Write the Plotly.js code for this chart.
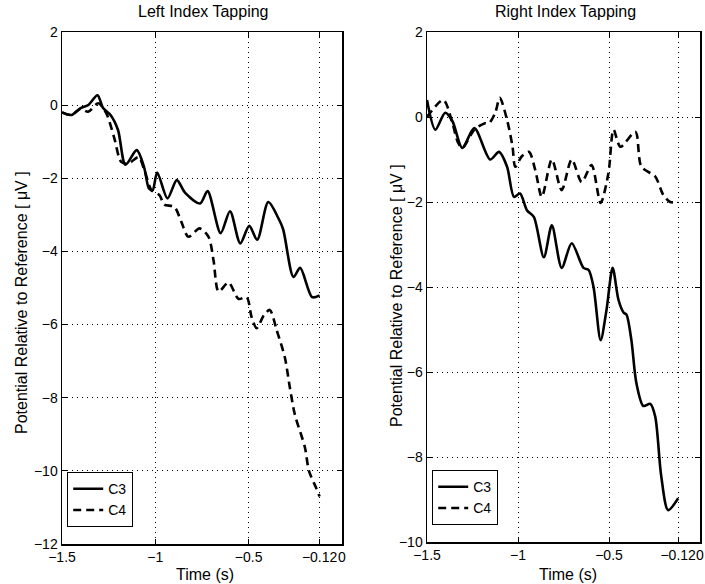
<!DOCTYPE html>
<html>
<head>
<meta charset="utf-8">
<script src="https://cdn.plot.ly/plotly-3.0.1.min.js"></script>
<style>html,body{margin:0;padding:0;background:#fff;}#chart{width:705px;height:584px;}</style>
</head>
<body>
<div id="chart"></div>
<script>
// ---- Data ----
const xTickVals = [-1.5, -1, -0.5, -0.12, 0];
const xTickText = ['\u22121.5', '\u22121', '\u22120.5', '\u22120.12', '0'];

// Left Index Tapping
const leftC3Time = [-1.5, -1.45, -1.40, -1.36, -1.31, -1.28, -1.24, -1.20, -1.16, -1.10, -1.06, -1.035, -1.015, -0.99, -0.935, -0.885, -0.84, -0.76, -0.72, -0.65, -0.60, -0.545, -0.497, -0.454, -0.395, -0.34, -0.315, -0.26, -0.224, -0.16, -0.12];
const leftC3 = [-0.2, -0.27, -0.08, 0.0, 0.27, -0.08, -0.27, -0.68, -1.63, -1.23, -1.7, -2.27, -2.33, -1.84, -2.55, -2.05, -2.4, -2.69, -2.35, -3.5, -2.9, -3.78, -3.3, -3.68, -2.65, -3.1, -3.4, -4.7, -4.45, -5.25, -5.2];
const leftC4Time = [-1.5, -1.45, -1.40, -1.36, -1.306, -1.263, -1.22, -1.183, -1.145, -1.09, -1.059, -1.02, -0.978, -0.952, -0.898, -0.86, -0.823, -0.763, -0.715, -0.688, -0.661, -0.608, -0.554, -0.511, -0.484, -0.457, -0.419, -0.387, -0.35, -0.306, -0.28, -0.253, -0.199, -0.177, -0.14, -0.12];
const leftC4 = [-0.2, -0.27, -0.1, -0.18, 0.05, -0.22, -0.9, -1.55, -1.6, -1.42, -1.77, -2.33, -2.46, -2.72, -2.78, -3.2, -3.6, -3.37, -3.6, -4.25, -5.1, -4.85, -5.3, -5.25, -5.8, -6.1, -5.75, -5.6, -6.15, -6.9, -7.7, -8.45, -9.35, -10.0, -10.45, -10.7];

// Right Index Tapping
const rightC3Time = [-1.5, -1.454, -1.40, -1.36, -1.306, -1.24, -1.153, -1.104, -1.06, -1.022, -0.989, -0.95, -0.913, -0.858, -0.814, -0.76, -0.705, -0.64, -0.612, -0.585, -0.546, -0.514, -0.48, -0.448, -0.42, -0.404, -0.377, -0.35, -0.311, -0.273, -0.246, -0.213, -0.175, -0.12];
const rightC3 = [0.4, -0.3, 0.1, -0.1, -0.73, -0.26, -1.0, -0.82, -1.17, -1.88, -1.8, -2.2, -2.35, -3.3, -2.55, -3.55, -2.97, -3.55, -3.6, -4.0, -5.25, -4.55, -3.55, -4.3, -4.6, -4.65, -5.25, -6.25, -6.8, -6.75, -7.05, -8.45, -9.25, -8.97];
const rightC4Time = [-1.5, -1.41, -1.36, -1.33, -1.306, -1.24, -1.185, -1.16, -1.125, -1.10, -1.06, -1.03, -1.015, -0.98, -0.94, -0.905, -0.869, -0.814, -0.76, -0.705, -0.65, -0.596, -0.546, -0.503, -0.475, -0.437, -0.355, -0.322, -0.246, -0.202, -0.164, -0.12];
const rightC4 = [0.0, 0.4, -0.15, -0.6, -0.73, -0.3, -0.15, -0.15, 0.1, 0.45, -0.07, -0.7, -1.17, -0.93, -0.82, -1.25, -1.88, -1.0, -1.72, -1.0, -1.53, -1.13, -2.02, -1.32, -0.3, -0.7, -0.35, -1.17, -1.4, -1.83, -2.0, -2.0];

const seriesNames = ['C3', 'C4'];
const panelTitles = ['Left Index Tapping', 'Right Index Tapping'];
const xTitle = 'Time (s)';
const yTitle = 'Potential Relative to Reference [ \u03bcV ]';

// ---- Layout helpers ----
const W = 705, H = 584;
const fx = p => p / W;
const fy = p => 1 - p / H;
const FONT = 'Liberation Sans, Arial, Helvetica, sans-serif';

const solid = {color: '#000', width: 2.6, shape: 'spline', smoothing: 0.8};
const dashed = {color: '#000', width: 2.6, shape: 'spline', smoothing: 0.8, dash: '8px,5px'};

const traces = [
  {x: leftC3Time, y: leftC3, name: seriesNames[0], mode: 'lines', line: solid, xaxis: 'x', yaxis: 'y', legend: 'legend'},
  {x: leftC4Time, y: leftC4, name: seriesNames[1], mode: 'lines', line: dashed, xaxis: 'x', yaxis: 'y', legend: 'legend'},
  {x: rightC3Time, y: rightC3, name: seriesNames[0], mode: 'lines', line: solid, xaxis: 'x2', yaxis: 'y2', legend: 'legend2'},
  {x: rightC4Time, y: rightC4, name: seriesNames[1], mode: 'lines', line: dashed, xaxis: 'x2', yaxis: 'y2', legend: 'legend2'}
];

const tickFont = {family: FONT, size: 14, color: '#000'};
function xAxis(d0, d1, anchor) {
  return {
    domain: [fx(d0), fx(d1)], anchor: anchor, range: [-1.5, 0],
    tickmode: 'array', tickvals: xTickVals, ticktext: xTickText,
    tickangle: 0, ticklabeloverflow: 'allow',
    ticks: 'inside', ticklen: 5, tickcolor: '#000', tickwidth: 1,
    showline: true, mirror: 'ticks', linecolor: '#000', linewidth: 1.5,
    showgrid: true, gridcolor: '#000', gridwidth: 1, griddash: '1px,4px',
    zeroline: false, tickfont: tickFont, automargin: false, fixedrange: true
  };
}
function yAxis(d0, d1, anchor, lo) {
  return {
    domain: [fy(d1), fy(d0)], anchor: anchor, range: [lo, 2], dtick: 2, tick0: 0,
    ticklabeloverflow: 'allow',
    ticks: 'inside', ticklen: 5, tickcolor: '#000', tickwidth: 1,
    showline: true, mirror: 'ticks', linecolor: '#000', linewidth: 1.5,
    showgrid: true, gridcolor: '#000', gridwidth: 1, griddash: '1px,4px',
    zeroline: false, tickfont: tickFont, automargin: false, fixedrange: true,
    tickformat: 'd'
  };
}

const annFont = {family: FONT, size: 16, color: '#000'};
function ann(text, x, y, angle) {
  return {text: text, x: fx(x), y: fy(y), xref: 'paper', yref: 'paper', xanchor: 'center', yanchor: 'middle',
          showarrow: false, textangle: angle || 0, font: annFont};
}
const layout = {
  width: W, height: H,
  margin: {l: 0, r: 0, t: 0, b: 0},
  paper_bgcolor: '#fff', plot_bgcolor: '#fff',
  font: {family: FONT, color: '#000'},
  xaxis: xAxis(62, 342, 'y'),
  yaxis: yAxis(32, 544, 'x', -12),
  xaxis2: xAxis(427, 700, 'y2'),
  yaxis2: yAxis(32, 542, 'x2', -10),
  legend: {x: fx(67), y: fy(527), xanchor: 'left', yanchor: 'bottom', bgcolor: '#fff', bordercolor: '#000', borderwidth: 1.2, font: {family: FONT, size: 14, color: '#000'}, tracegroupgap: 0},
  legend2: {x: fx(432), y: fy(525), xanchor: 'left', yanchor: 'bottom', bgcolor: '#fff', bordercolor: '#000', borderwidth: 1.2, font: {family: FONT, size: 14, color: '#000'}, tracegroupgap: 0},
  annotations: [
    ann(panelTitles[0], 203, 12),
    ann(panelTitles[1], 565, 12),
    ann(xTitle, 205, 574),
    ann(xTitle, 568, 574),
    ann(yTitle, 21, 303, -90),
    ann(yTitle, 396, 296, -90)
  ],
  showlegend: true
};

Plotly.newPlot('chart', traces, layout, {displayModeBar: false, staticPlot: true});
</script>
</body>
</html>
